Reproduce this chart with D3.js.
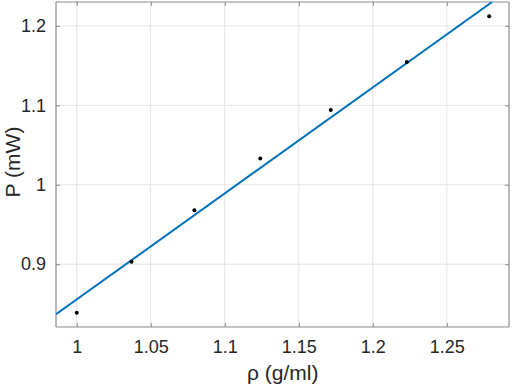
<!DOCTYPE html>
<html>
<head>
<meta charset="utf-8">
<script src="https://cdn.jsdelivr.net/npm/d3@7"></script>
<style>
  body { margin: 0; background: #fff; }
  svg text { font-family: "Liberation Sans", Arial, Helvetica, sans-serif; fill: #262626; }
</style>
</head>
<body>
<div id="chart"></div>
<script>
// Measured points (density vs power)
const rho = [1.0, 1.037, 1.0795, 1.124, 1.1716, 1.223, 1.2786];
const power = [0.839, 0.903, 0.968, 1.033, 1.094, 1.1545, 1.212];

const fitRho = [0.986, 1.2806];
const fitPower = [0.837, 1.230];

// Tick values
const xTicks = [1, 1.05, 1.1, 1.15, 1.2, 1.25];
const yTicks = [0.9, 1, 1.1, 1.2];

let margin = {top: 2, right: 3, bottom: 63, left: 56};
let width = 512 - margin.left - margin.right;
let height = 390 - margin.top - margin.bottom;

let svg = d3.select("#chart").append("svg")
    .attr("width", 512)
    .attr("height", 390)
    .append("g")
    .attr("transform", "translate(" + margin.left + "," + margin.top + ")");

let x = d3.scaleLinear().domain([0.986, 1.292]).range([0, width]);
let y = d3.scaleLinear().domain([0.821, 1.230]).range([height, 0]);

// grid lines
svg.append("g")
    .selectAll("line")
    .data(xTicks)
    .enter()
    .append("line")
    .attr("x1", d => x(d)).attr("x2", d => x(d))
    .attr("y1", 0).attr("y2", height)
    .attr("stroke", "#e3e3e3");

svg.append("g")
    .selectAll("line")
    .data(yTicks)
    .enter()
    .append("line")
    .attr("x1", 0).attr("x2", width)
    .attr("y1", d => y(d)).attr("y2", d => y(d))
    .attr("stroke", "#e3e3e3");

// axes with ticks inside, box on all sides
const fmt = d => d3.format("")(+d.toFixed(2));
const axisColor = "#8a8a8a";

let gx = svg.append("g")
    .attr("transform", `translate(0,${height})`)
    .call(d3.axisBottom(x).tickValues(xTicks).tickSize(-4).tickPadding(13).tickFormat(fmt));
let gxTop = svg.append("g")
    .call(d3.axisTop(x).tickValues(xTicks).tickSize(-4).tickFormat(""));
let gy = svg.append("g")
    .call(d3.axisLeft(y).tickValues(yTicks).tickSize(-4).tickPadding(10).tickFormat(fmt));
let gyRight = svg.append("g")
    .attr("transform", `translate(${width},0)`)
    .call(d3.axisRight(y).tickValues(yTicks).tickSize(-4).tickFormat(""));

[gx, gxTop, gy, gyRight].forEach(g => {
    g.select(".domain").attr("stroke", axisColor).attr("stroke-width", 1.2);
    g.selectAll(".tick line").attr("stroke", axisColor);
    g.selectAll(".tick text").style("font-size", "18px").attr("fill", "#262626");
});
gx.selectAll(".domain").attr("d", `M0,0H${width}`);
gxTop.selectAll(".domain").attr("d", `M0,0H${width}`);
gy.selectAll(".domain").attr("d", `M0,0V${height}`);
gyRight.selectAll(".domain").attr("d", `M0,0V${height}`);

// clip for fit line
svg.append("clipPath").attr("id", "plot-clip")
    .append("rect").attr("width", width).attr("height", height);

let fitData = fitRho.map((r, i) => ({rho: r, power: fitPower[i]}));
svg.append("path")
    .datum(fitData)
    .attr("clip-path", "url(#plot-clip)")
    .attr("fill", "none")
    .attr("stroke", "#0072BD")
    .attr("stroke-width", 2)
    .attr("d", d3.line().x(d => x(d.rho)).y(d => y(d.power)));

// data points
svg.append("g")
    .selectAll("circle")
    .data(rho)
    .enter()
    .append("circle")
    .attr("cx", d => x(d))
    .attr("cy", (d, i) => y(power[i]))
    .attr("r", 2)
    .attr("fill", "#000");

// axis labels
svg.append("text")
    .attr("x", x(1.15) - 16)
    .attr("y", height + 53)
    .attr("text-anchor", "middle")
    .style("font-size", "21px")
    .text("ρ (g/ml)");

svg.append("text")
    .attr("transform", `translate(${20 - margin.left},${162 - margin.top}) rotate(-90)`)
    .attr("text-anchor", "middle")
    .style("font-size", "21px")
    .text("P (mW)");
</script>
</body>
</html>
